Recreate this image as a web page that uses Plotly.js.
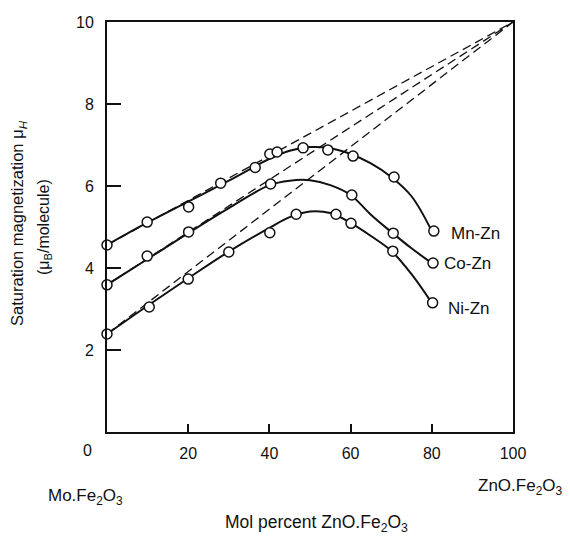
<!DOCTYPE html>
<html>
<head>
<meta charset="utf-8">
<script src="https://cdn.plot.ly/plotly-3.0.1.min.js"></script>
<style>html,body{margin:0;padding:0;background:#fff;}#chart{width:570px;height:537px;}</style>
</head>
<body>
<div id="chart"></div>
<script>
// ---- Data ----
// Measured points (mol % ZnO.Fe2O3, saturation magnetization in μB/molecule)
const mnX = [0, 9.9, 20.1, 28, 36.5, 40.1, 41.9, 48.3, 54.4, 60.6, 70.7, 80.5];
const mnY = [4.56, 5.12, 5.49, 6.07, 6.45, 6.78, 6.83, 6.93, 6.88, 6.73, 6.22, 4.90];
const coX = [0, 9.9, 20.1, 40.3, 60.3, 70.5, 80.3];
const coY = [3.59, 4.29, 4.88, 6.05, 5.78, 4.85, 4.12];
const niX = [0, 10.4, 20, 30, 40.1, 46.6, 56.4, 60.1, 70.4, 80.2];
const niY = [2.39, 3.05, 3.73, 4.39, 4.86, 5.31, 5.31, 5.09, 4.41, 3.15];

// Smooth fitted curves drawn through the data
const curveX = [0, 10, 20, 30, 40, 45, 50, 55, 60, 65, 70, 75, 80];
const mnCurveY = [4.56, 5.11, 5.62, 6.13, 6.66, 6.86, 6.95, 6.92, 6.78, 6.55, 6.22, 5.75, 4.90];
const coCurveY = [3.59, 4.22, 4.85, 5.46, 6.02, 6.13, 6.14, 6.02, 5.78, 5.30, 4.88, 4.48, 4.12];
const niCurveY = [2.39, 3.08, 3.75, 4.40, 4.98, 5.24, 5.38, 5.34, 5.10, 4.78, 4.42, 3.85, 3.15];

// Theoretical (dashed) lines: from x=0 value to ZnO.Fe2O3 end
const theoryX = [0, 100];
const mnTheoryY = [4.56, 10];
const coTheoryY = [3.59, 10];
const niTheoryY = [2.39, 10];

const seriesLabels = ["Mn-Zn", "Co-Zn", "Ni-Zn"];
const labelX = [84.3, 82.6, 83.5];
const labelY = [4.85, 4.12, 3.02];

const xTicks = [20, 40, 60, 80, 100];
const yTicks = [2, 4, 6, 8, 10];

// ---- Chart ----
const ink = "#111";
const font = "Liberation Sans, Arial, sans-serif";
const traces = [];
[[theoryX, mnTheoryY], [theoryX, coTheoryY], [theoryX, niTheoryY]].forEach(([x, y]) => {
  traces.push({x, y, mode: "lines", line: {color: ink, width: 1.3, dash: "9px,5px"}, hoverinfo: "skip"});
});
[mnCurveY, coCurveY, niCurveY].forEach(y => {
  traces.push({x: curveX, y, mode: "lines", line: {color: ink, width: 2, shape: "spline", smoothing: 1}, hoverinfo: "skip"});
});
[[mnX, mnY], [coX, coY], [niX, niY]].forEach(([x, y]) => {
  traces.push({x, y, mode: "markers", marker: {symbol: "circle", size: 10, color: "#fff", line: {color: ink, width: 1.5}}, cliponaxis: false});
});

const annotations = seriesLabels.map((t, i) => ({
  text: t, x: labelX[i], y: labelY[i], xref: "x", yref: "y", xanchor: "left", yanchor: "middle",
  showarrow: false, font: {family: font, size: 17, color: ink}
}));
const paperText = (text, x, y, size, extra) => Object.assign({
  text, x, y, xref: "paper", yref: "paper", showarrow: false, xanchor: "center", yanchor: "middle",
  font: {family: font, size, color: ink}
}, extra || {});
annotations.push(paperText("0", -0.047, -0.046, 16));
annotations.push(paperText("Mo.Fe<sub>2</sub>O<sub>3</sub>", -0.052, -0.159, 17));
annotations.push(paperText("ZnO.Fe<sub>2</sub>O<sub>3</sub>", 1.017, -0.134, 17));
annotations.push(paperText("Mol percent ZnO.Fe<sub>2</sub>O<sub>3</sub>", 0.515, -0.224, 17.5));
annotations.push(paperText("Saturation magnetization μ<sub><i>H</i></sub>", -0.219, 0.51, 16.5, {textangle: -90}));
annotations.push(paperText("(μ<sub>B</sub>/molecule)", -0.155, 0.50, 16, {textangle: -90}));

const layout = {
  width: 570, height: 537,
  margin: {l: 107, r: 57, t: 22, b: 105},
  paper_bgcolor: "#fff", plot_bgcolor: "#fff",
  showlegend: false,
  xaxis: {
    range: [0, 100], tickvals: xTicks, ticktext: xTicks.map(String),
    ticks: "inside", ticklen: 8, tickwidth: 2, tickcolor: ink,
    showline: true, linecolor: ink, linewidth: 2, mirror: true,
    showgrid: false, zeroline: false,
    tickfont: {family: font, size: 16, color: ink}, ticklabelstandoff: 6
  },
  yaxis: {
    range: [0, 10], tickvals: yTicks, ticktext: yTicks.map(String),
    ticks: "inside", ticklen: 14, tickwidth: 2, tickcolor: ink,
    showline: true, linecolor: ink, linewidth: 2, mirror: true,
    showgrid: false, zeroline: false,
    tickfont: {family: font, size: 16, color: ink}, ticklabelstandoff: 8
  },
  annotations
};
Plotly.newPlot("chart", traces, layout, {displayModeBar: false, staticPlot: true});
</script>
</body>
</html>
